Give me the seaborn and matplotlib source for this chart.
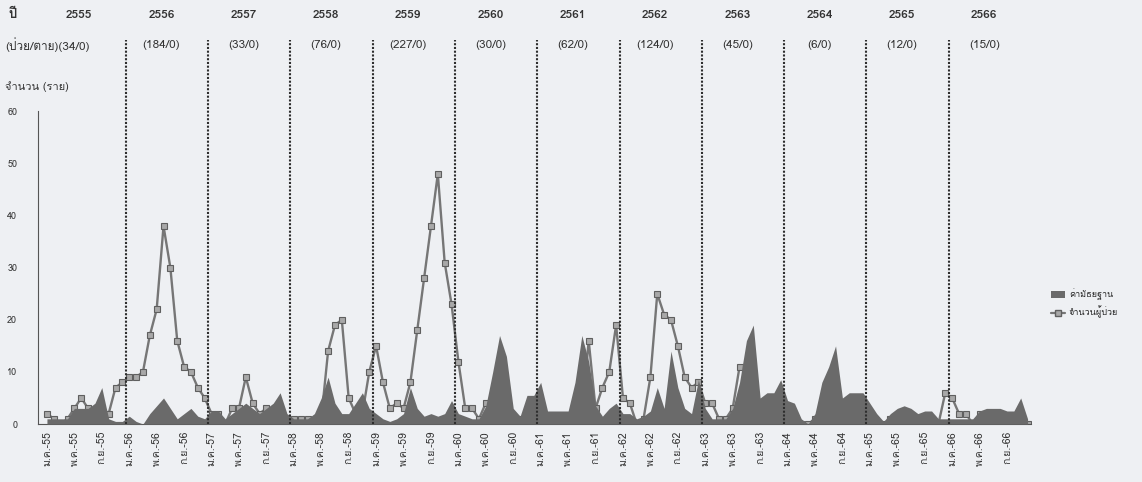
import numpy as np
import pandas as pd
import matplotlib
matplotlib.use("Agg")
import matplotlib.pyplot as plt
import matplotlib.transforms as mtransforms
from matplotlib import font_manager
from matplotlib.ft2font import FT2Font
from matplotlib.patches import Patch
from matplotlib.lines import Line2D
import seaborn as sns

# ข้อมูล: ปี พ.ศ. และจำนวนป่วย/ตายรายปี
years = ["2555", "2556", "2557", "2558", "2559", "2560",
         "2561", "2562", "2563", "2564", "2565", "2566"]
year_counts = ["(34/0)", "(184/0)", "(33/0)", "(76/0)", "(227/0)", "(30/0)",
               "(62/0)", "(124/0)", "(45/0)", "(6/0)", "(12/0)", "(15/0)"]
month_abbr = ["ม.ค.", "พ.ค.", "ก.ย."]  # ป้ายแกน x ทุก 4 เดือน

# จำนวนผู้ป่วยรายเดือน (ม.ค.-55 ถึง ธ.ค.-66)
cases = [
    2, 1, 0, 1, 3, 5, 3, 0, 2, 2, 7, 8,            # 2555
    9, 9, 10, 17, 22, 38, 30, 16, 11, 10, 7, 5,    # 2556
    2, 2, 0, 3, 3, 9, 4, 2, 3, 2, 2, 1,            # 2557
    1, 1, 1, 0, 1, 14, 19, 20, 5, 2, 2, 10,        # 2558
    15, 8, 3, 4, 3, 8, 18, 28, 38, 48, 31, 23,     # 2559
    12, 3, 3, 1, 4, 1, 1, 1, 1, 1, 1, 1,           # 2560
    1, 1, 1, 1, 1, 1, 1, 16, 3, 7, 10, 19,         # 2561
    5, 4, 0, 1, 9, 25, 21, 20, 15, 9, 7, 8,        # 2562
    4, 4, 1, 1, 3, 11, 11, 2, 2, 2, 2, 2,          # 2563
    1, 0, 0, 0, 1, 1, 1, 0, 0, 1, 1, 0,            # 2564
    1, 0, 0, 1, 1, 0, 1, 1, 0, 1, 0, 6,            # 2565
    5, 2, 2, 0, 2, 2, 1, 0, 0, 0, 1, 0,            # 2566
]

# ค่ามัธยฐานรายเดือน
median = [
    1, 1, 1, 1, 3, 3, 3, 4, 7, 1, 0.5, 0.5,
    1.5, 0.5, 0, 2, 3.5, 5, 3, 1, 2, 3, 1.5, 1,
    2.5, 2.5, 1, 2, 3, 4, 3, 2, 3, 4, 6, 2,
    1, 1, 1, 2, 5, 9, 4, 2, 2, 4, 6, 3,
    2, 1, 0.5, 1, 2, 7, 3, 1.5, 2, 1.5, 2, 4.5,
    2, 1.5, 1, 1, 3.5, 10, 17, 13, 3, 1.5, 5.5, 5.5,
    8, 2.5, 2.5, 2.5, 2.5, 8, 17, 12, 3.5, 1.5, 3, 4,
    2, 2, 1, 1.5, 2.5, 7, 3, 14, 7, 3, 2, 8.5,
    3, 1, 1, 1, 3, 8, 16, 19, 5, 6, 6, 8.5,
    4.5, 4, 1, 0, 2, 8, 11, 15, 5, 6, 6, 6,
    4, 2, 0.5, 2, 3, 3.5, 3, 2, 2.5, 2.5, 1, 1,
    1, 1, 1, 1, 2.5, 3, 3, 3, 2.5, 2.5, 5, 1,
]


# หาฟอนต์ที่มีอักษรไทย
def thai_family():
    for f in font_manager.fontManager.ttflist:
        try:
            if FT2Font(f.fname).get_char_index(ord("ม")):
                return f.name
        except Exception:
            pass
    return "DejaVu Sans"


sns.set_theme(style="white")
plt.rcParams["font.family"] = [thai_family(), "DejaVu Sans"]

bg = "#eef0f3"
area_color = "#6a6a6a"
line_color = "#767676"
text_color = "#333333"

df = pd.DataFrame({"month": np.arange(len(cases)), "cases": cases, "median": median})

fig = plt.figure(figsize=(11.42, 4.82), dpi=100, facecolor=bg)
ax = fig.add_axes([0.0333, 0.1203, 0.8695, 0.6484], facecolor=bg)

# เส้นจำนวนผู้ป่วย
sns.lineplot(data=df, x="month", y="cases", ax=ax, color=line_color, linewidth=1.7,
             marker="s", markersize=4.5, markerfacecolor="#a8a8a8",
             markeredgecolor="#5f5f5f", markeredgewidth=0.8, zorder=2, legend=False)

# พื้นที่ค่ามัธยฐาน (วาดทับเส้น)
ax.fill_between(df["month"], 0, df["median"], color=area_color, linewidth=0, zorder=3)

ax.set_xlim(-1.3, 143.5)
ax.set_ylim(0, 60)

# ป้ายแกน x
tick_pos = np.arange(0, len(cases), 4)
tick_lab = [f"{month_abbr[(p // 4) % 3]}-{years[p // 12][2:]}" for p in tick_pos]
ax.set_xticks(tick_pos)
ax.set_xticklabels(tick_lab, rotation=90, fontsize=7.5, color=text_color)
ax.set_yticks(np.arange(0, 61, 10))
ax.tick_params(axis="y", labelsize=6.5, colors=text_color, length=3, pad=12)
ax.tick_params(axis="x", length=3, pad=2, colors=text_color)
ax.set_xlabel("")
ax.set_ylabel("")

for s in ["top", "right"]:
    ax.spines[s].set_visible(False)
for s in ["left", "bottom"]:
    ax.spines[s].set_color("#555555")
    ax.spines[s].set_linewidth(0.8)

# เส้นแบ่งปี และข้อความด้านบน
trans = mtransforms.blended_transform_factory(ax.transData, ax.transAxes)
for k in range(len(years)):
    if k > 0:
        ax.plot([12 * k - 0.5, 12 * k - 0.5], [0, 1.23], transform=trans,
                color="#2e2e2e", linestyle=(0, (1, 0.8)), linewidth=1.5,
                clip_on=False, zorder=4)
    ax.text(12 * k + 4.7, 1.309, years[k], transform=trans, ha="center", va="center",
            fontsize=8.5, fontweight="bold", color=text_color)
    if k > 0:
        ax.text(12 * k + 4.7, 1.213, year_counts[k], transform=trans, ha="center",
                va="center", fontsize=8.5, color=text_color)

fig.text(8 / 1142, 1 - 15 / 482, "ปี", ha="left", va="center", fontsize=9.5,
         fontweight="bold", color=text_color)
fig.text(5 / 1142, 1 - 45 / 482, "(ป่วย/ตาย)" + year_counts[0], ha="left", va="center",
         fontsize=8.5, color=text_color)
fig.text(5 / 1142, 1 - 87 / 482, "จำนวน (ราย)", ha="left", va="center",
         fontsize=8, color=text_color)

# คำอธิบายสัญลักษณ์
handles = [
    Patch(facecolor=area_color, edgecolor="none", label="ค่ามัธยฐาน"),
    Line2D([], [], color=line_color, linewidth=1.6, marker="s", markersize=4,
           markerfacecolor="#a8a8a8", markeredgecolor="#5f5f5f", label="จำนวนผู้ป่วย"),
]
fig.legend(handles=handles, loc="upper left", bbox_to_anchor=(0.913, 0.418),
           frameon=False, fontsize=6.5, handlelength=1.6, handletextpad=0.4,
           labelspacing=0.6)

fig.savefig("out.png", dpi=100, facecolor=bg)
